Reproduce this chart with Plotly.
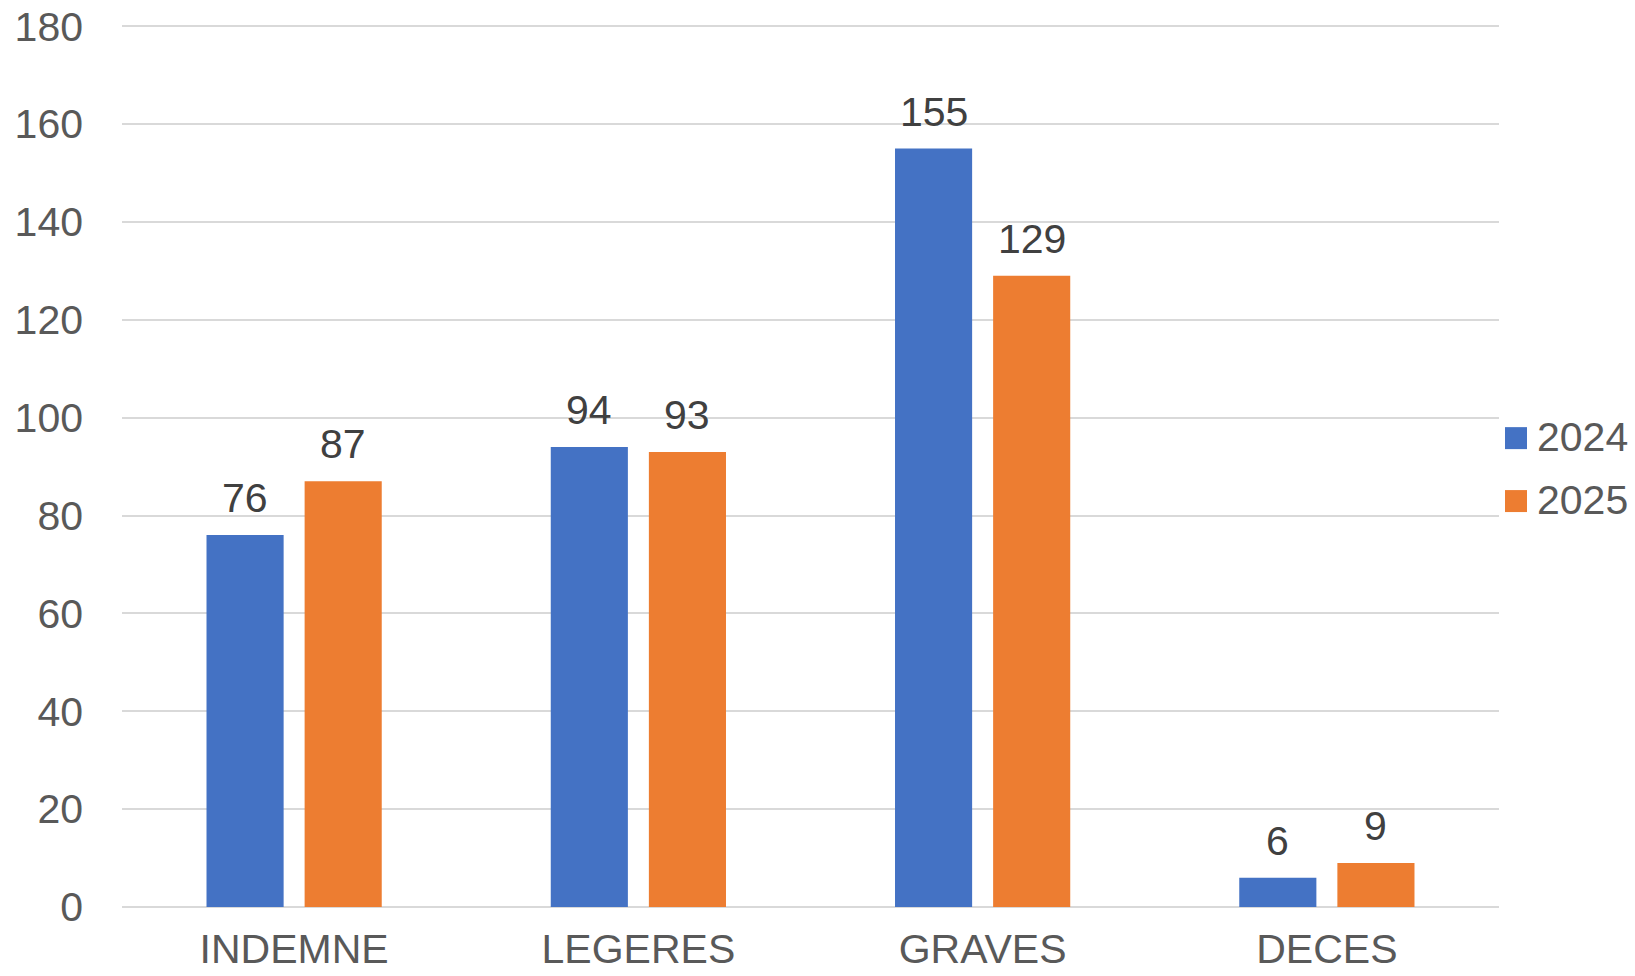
import plotly.graph_objects as go

categories = ["INDEMNE", "LEGERES", "GRAVES", "DECES"]
series_names = ["2024", "2025"]
values_2024 = [76, 94, 155, 6]
values_2025 = [87, 93, 129, 9]
y_ticks = [0, 20, 40, 60, 80, 100, 120, 140, 160, 180]

colors = ["#4472C4", "#ED7D31"]
FONT = "Liberation Sans, Arial, sans-serif"
FS = 41

W, H = 1635, 976
L, R_EDGE = 122, 1499
TOP, BOT = 24.5, 907.3
YMAX = 180.25
PH = BOT - TOP

fig = go.Figure()
for name, vals, col in zip(series_names, [values_2024, values_2025], colors):
    fig.add_trace(go.Bar(x=categories, y=vals, name=name, marker_color=col,
                         marker_line_width=0, showlegend=False, hoverinfo="skip"))

annotations = []
for vals, shift in zip([values_2024, values_2025], [-49, 49]):
    for c, v in zip(categories, vals):
        annotations.append(dict(x=c, y=v, xref="x", yref="y", text=str(v),
                                showarrow=False, xshift=shift, yanchor="bottom",
                                yshift=12, font=dict(family=FONT, size=FS, color="#404040")))

# manual legend
leg_y = [438, 501]
shapes = []
for name, col, yc in zip(series_names, colors, leg_y):
    shapes.append(dict(type="rect", xref="paper", yref="paper",
                       x0=(1505 - L) / (R_EDGE - L), x1=(1527 - L) / (R_EDGE - L),
                       y0=(BOT - (yc + 11)) / PH, y1=(BOT - (yc - 11)) / PH,
                       fillcolor=col, line_width=0))
    annotations.append(dict(x=(1535 - L) / (R_EDGE - L), y=(BOT - yc + 1) / PH,
                            xref="paper", yref="paper", text=name, showarrow=False,
                            xanchor="left", yanchor="middle",
                            font=dict(family=FONT, size=FS, color="#595959")))

fig.update_layout(
    width=W, height=H,
    margin=dict(l=L, r=W - R_EDGE, t=TOP, b=H - BOT),
    paper_bgcolor="white", plot_bgcolor="white",
    barmode="group", bargap=0.43, bargroupgap=0.214,
    font=dict(family=FONT, size=FS, color="#595959"),
    annotations=annotations, shapes=shapes,
    xaxis=dict(showline=False, ticks="", automargin=False,
               tickfont=dict(size=FS, color="#595959"), ticklabelstandoff=14),
    yaxis=dict(range=[0, YMAX], tickvals=y_ticks, showgrid=True, gridcolor="#d9d9d9",
               gridwidth=2, zeroline=True, zerolinecolor="#d9d9d9", zerolinewidth=2,
               ticks="", automargin=False,
               tickfont=dict(size=FS, color="#595959"), ticklabelstandoff=38),
)

fig.write_html("out.html", config={"displayModeBar": False},
               post_script="document.body.style.margin='0';document.body.style.overflow='hidden';")
